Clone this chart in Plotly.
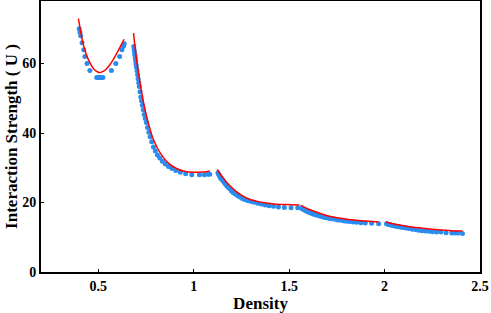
import plotly.graph_objects as go

# curvas teóricas (rojo) por tramo
red_x1 = [0.396, 0.41, 0.42, 0.44, 0.46, 0.48, 0.50, 0.507, 0.52, 0.54, 0.56, 0.58, 0.60, 0.62, 0.635]
red_y1 = [72.9, 68.5, 65.8, 62.2, 59.8, 58.2, 57.5, 57.4, 57.6, 58.3, 59.6, 61.3, 63.3, 65.3, 67.0]
red_x2 = [0.685, 0.69, 0.70, 0.71, 0.725, 0.74, 0.76, 0.79, 0.83, 0.87, 0.91, 0.95, 1.0, 1.05, 1.084]
red_y2 = [68.8, 66.0, 61.5, 57.5, 52.5, 48.0, 43.3, 38.0, 33.8, 31.2, 29.8, 29.0, 28.7, 28.8, 29.1]
red_x3 = [1.123, 1.135, 1.15, 1.17, 1.19, 1.22, 1.257, 1.29, 1.327, 1.37, 1.42, 1.48, 1.554]
red_y3 = [29.5, 28.5, 27.4, 26.0, 24.8, 23.3, 21.9, 21.0, 20.4, 19.9, 19.6, 19.4, 19.3]
red_x4 = [1.563, 1.59, 1.62, 1.66, 1.70, 1.75, 1.80, 1.85, 1.90, 1.969]
red_y4 = [19.2, 18.4, 17.7, 16.9, 16.2, 15.6, 15.2, 14.9, 14.7, 14.4]
red_x5 = [2.007, 2.05, 2.10, 2.15, 2.20, 2.25, 2.30, 2.35, 2.408]
red_y5 = [14.4, 13.8, 13.3, 12.9, 12.6, 12.3, 12.1, 11.9, 11.8]

# puntos simulados (azul)
blue_x1 = [0.400, 0.404, 0.408, 0.415, 0.424, 0.430, 0.441, 0.456, 0.492, 0.500, 0.508, 0.516, 0.524,
           0.569, 0.592, 0.612, 0.624, 0.632, 0.636]
blue_y1 = [70, 69, 68, 66, 64, 62, 60, 58, 56, 56, 56, 56, 56, 58, 60, 62, 64, 65, 65.7]
blue_x2 = [0.686, 0.688, 0.690, 0.692, 0.694, 0.696, 0.698, 0.700, 0.703, 0.706, 0.709, 0.712, 0.715,
           0.719, 0.723, 0.727, 0.731, 0.736, 0.741, 0.746, 0.752, 0.758, 0.765, 0.772, 0.780, 0.789,
           0.799, 0.810, 0.822, 0.836, 0.851, 0.868, 0.886, 0.906, 0.930, 0.958, 0.990, 1.030, 1.056,
           1.075, 1.084]
blue_y2 = [64.9, 64.0, 63.2, 62.4, 61.6, 60.7, 59.8, 59.0, 57.9, 56.8, 55.6, 54.5, 53.4, 51.9, 50.4,
           49.2, 48.0, 46.7, 45.3, 44.2, 43.0, 41.6, 40.2, 38.9, 37.5, 36.0, 34.8, 33.7, 32.8, 31.9,
           31.1, 30.4, 29.8, 29.2, 28.7, 28.3, 28.0, 28.0, 28.0, 28.1, 28.1]
blue_x3 = [1.127, 1.130, 1.134, 1.138, 1.142, 1.147, 1.153, 1.159, 1.166, 1.173, 1.180, 1.188, 1.197,
           1.206, 1.215, 1.223, 1.233, 1.245, 1.257, 1.270, 1.285, 1.301, 1.318, 1.336, 1.354, 1.374,
           1.395, 1.418, 1.444, 1.475, 1.510, 1.545]
blue_y3 = [28.6, 28.2, 27.8, 27.4, 27.0, 26.7, 26.3, 25.8, 25.3, 24.8, 24.4, 24.0, 23.4, 22.9, 22.6,
           22.3, 21.9, 21.5, 21.1, 20.8, 20.5, 20.3, 20.1, 19.8, 19.6, 19.3, 19.1, 18.9, 18.7, 18.6,
           18.5, 18.5]
blue_x4 = [1.563, 1.567, 1.572, 1.578, 1.585, 1.592, 1.600, 1.606, 1.616, 1.626, 1.637, 1.648, 1.659,
           1.672, 1.685, 1.698, 1.711, 1.725, 1.740, 1.754, 1.771, 1.789, 1.804, 1.819, 1.836, 1.854,
           1.876, 1.899, 1.932, 1.969]
blue_y4 = [18.5, 18.3, 18.1, 17.9, 17.7, 17.5, 17.3, 17.2, 16.9, 16.7, 16.5, 16.3, 16.1, 15.9, 15.7,
           15.6, 15.4, 15.3, 15.2, 15.0, 14.9, 14.7, 14.6, 14.5, 14.4, 14.3, 14.2, 14.1, 14.0, 13.9]
blue_x5 = [2.010, 2.015, 2.021, 2.028, 2.035, 2.042, 2.050, 2.059, 2.068, 2.077, 2.087, 2.099, 2.112,
           2.128, 2.146, 2.162, 2.178, 2.195, 2.213, 2.232, 2.251, 2.272, 2.295, 2.322, 2.352, 2.370,
           2.385, 2.408]
blue_y5 = [13.9, 13.8, 13.7, 13.6, 13.5, 13.4, 13.3, 13.2, 13.1, 13.0, 12.9, 12.8, 12.7, 12.5, 12.3,
           12.2, 12.0, 11.9, 11.8, 11.7, 11.6, 11.5, 11.5, 11.3, 11.2, 11.2, 11.2, 11.1]

x_ticks = [0.5, 1, 1.5, 2, 2.5]
x_labels = ["0.5", "1", "1.5", "2", "2.5"]
y_ticks = [0, 20, 40, 60]

red_segs = [(red_x1, red_y1), (red_x2, red_y2), (red_x3, red_y3), (red_x4, red_y4), (red_x5, red_y5)]
blue_segs = [(blue_x1, blue_y1), (blue_x2, blue_y2), (blue_x3, blue_y3), (blue_x4, blue_y4), (blue_x5, blue_y5)]

fig = go.Figure()
for bx, by in blue_segs:
    fig.add_trace(go.Scatter(x=bx, y=by, mode="markers",
                             marker=dict(size=5, color="rgb(40,140,240)"), showlegend=False))
for rx, ry in red_segs:
    fig.add_trace(go.Scatter(x=rx, y=ry, mode="lines", line=dict(color="red", width=1.5, shape="spline"),
                             showlegend=False))

font = dict(family="Liberation Serif", size=14, color="black")
fig.update_layout(
    width=491, height=313,
    margin=dict(l=41, r=11, t=1, b=41),
    plot_bgcolor="white", paper_bgcolor="white",
    font=font,
)
fig.update_xaxes(range=[0.2, 2.5], tickvals=x_ticks, ticktext=["<b>%s</b>" % t for t in x_labels],
                 ticks="inside", ticklen=3, tickcolor="black", showgrid=False, zeroline=False,
                 showline=True, linecolor="black", linewidth=2, mirror=True, automargin=False,
                 title=dict(text="<b>Density</b>", standoff=2))
fig.update_yaxes(range=[0, 78], tickvals=y_ticks, ticktext=["<b>%d</b>" % t for t in y_ticks],
                 ticks="inside", ticklen=3, tickcolor="black", showgrid=False, zeroline=False,
                 showline=True, linecolor="black", linewidth=2, mirror=True, automargin=False,
                 title=dict(text="<b>Interaction Strength ( U )</b>", standoff=0))

# quitar el margen por defecto del body para que la figura quede en (0,0)
fig.write_html("out.html", config={"displayModeBar": False},
               post_script="document.body.style.margin='0';")
